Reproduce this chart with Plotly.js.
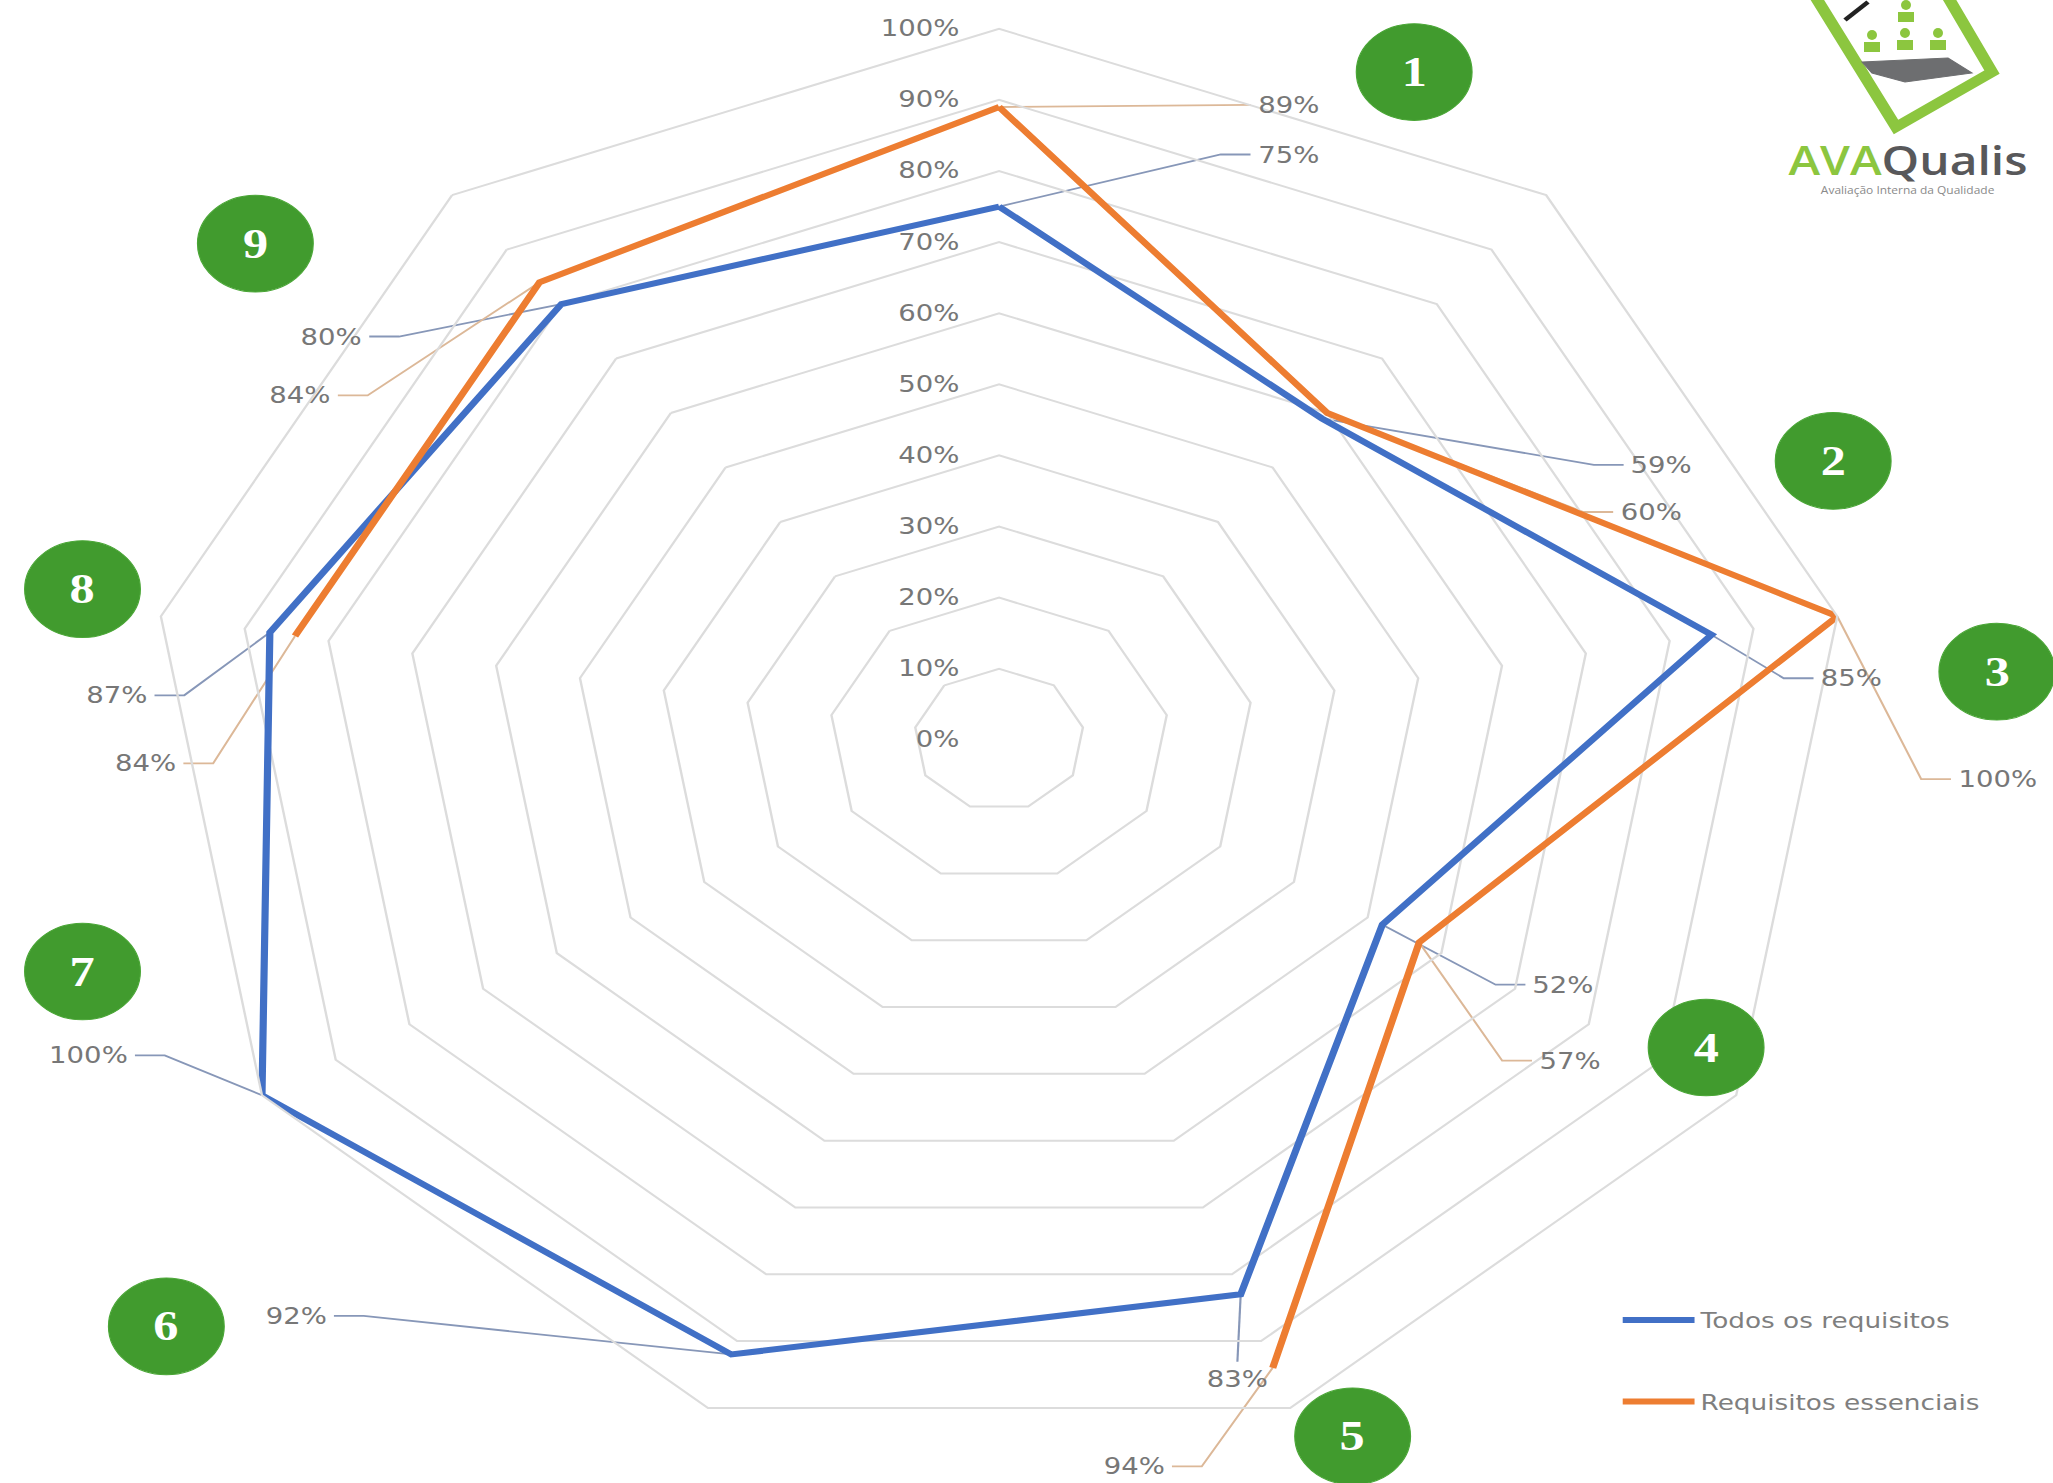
<!DOCTYPE html>
<html><head><meta charset="utf-8">
<script src="https://cdn.plot.ly/plotly-3.0.1.min.js"></script>
<style>
html,body{margin:0;padding:0;background:#fff;overflow:hidden;}
#chart{width:1715px;height:1483px;transform:scaleX(1.19708);transform-origin:0 0;}
</style></head><body><div id="chart"></div>
<script>
// ---- data ----
const categories = ['1','2','3','4','5','6','7','8','9'];
const todos = [75, 59, 85, 52, 83, 92, 100, 87, 80];          // Todos os requisitos
const essenciais = [89, 60, 100, 57, 94, null, null, 84, 84];  // Requisitos essenciais
const radialTicks = [0,10,20,30,40,50,60,70,80,90,100];
const radialTickText = ['0%','10%','20%','30%','40%','50%','60%','70%','80%','90%','100%'];
const seriesNames = ['Todos os requisitos', 'Requisitos essenciais'];

// ---- label placement (layout, overlay units: 1 = full radius) ----
const todosLabelPos = [[0.2954,0.8232,'L'],[0.7338,0.3867,'L'],[0.9569,0.0866,'L'],[0.6184,-0.3444,'L'],[0.2800,-0.8747,'B'],[-0.7815,-0.8103,'R'],[-1.0153,-0.4438,'R'],[-0.9923,0.0626,'R'],[-0.7400,0.5672,'R']];
const essLabelPos = [[0.2954,0.8931,'L'],[0.7215,0.3204,'L'],[1.1184,-0.0552,'L'],[0.6261,-0.4512,'L'],[0.2031,-1.0220,'R'],null,null,[-0.9584,-0.0331,'R'],[-0.7769,0.4843,'R']];
const badgePos = [[0.4877,0.9392],[0.980,0.3922],[1.1723,0.0958],[0.8307,-0.4328],[0.4154,-0.9797],[-0.9784,-0.8250],[-1.0769,-0.3259],[-1.0769,0.2118],[-0.8738,0.6979]];

const W = 1715, H = 1483, cx = 834.6, cy = 739.8, R = 711;
const BLUE = '#4170C6', ORANGE = '#ED7D31', GREEN = '#419b2e';
const labelFont = {family:'DejaVu Sans', size:23, color:'#777777'};
const PAD = '\u00a0\u00a0\u00a0\u00a0';

function toXY(v, i) {
  const a = i * 2 * Math.PI / categories.length;
  return [v/100*Math.sin(a), v/100*Math.cos(a)];
}
function close(arr){ return arr.concat([arr[0]]); }

function leaderTrace(values, pos, color) {
  const xs = [], ys = [];
  values.forEach((v,i)=>{
    if (v == null || !pos[i]) return;
    const [px,py] = toXY(v,i);
    const [ex,ey,side] = pos[i];
    xs.push(px); ys.push(py);
    if (side === 'L') { xs.push(ex-0.035); ys.push(ey); }
    else if (side === 'R') { xs.push(ex+0.035); ys.push(ey); }
    xs.push(ex); ys.push(ey);
    xs.push(null); ys.push(null);
  });
  return {type:'scatter', x:xs, y:ys, mode:'lines', xaxis:'x', yaxis:'y',
    line:{color:color, width:1.8}, hoverinfo:'skip', showlegend:false, connectgaps:false};
}
function labelAnns(values, pos) {
  const out = [];
  values.forEach((v,i)=>{
    if (v == null || !pos[i]) return;
    const [ex,ey,side] = pos[i];
    const a = {x:ex, y:ey, xref:'x', yref:'y', text:v+'%', showarrow:false, font:labelFont};
    if (side === 'L') { a.xanchor='left'; a.xshift=4; a.yanchor='middle'; }
    else if (side === 'R') { a.xanchor='right'; a.xshift=-4; a.yanchor='middle'; }
    else { a.xanchor='center'; a.yanchor='top'; a.yshift=-2; }
    out.push(a);
  });
  return out;
}

const traces = [
  leaderTrace(todos, todosLabelPos, '#8797b8'),
  leaderTrace(essenciais, essLabelPos, '#dcb898'),
  {type:'scatterpolar', subplot:'polar', r:close(todos), theta:close(categories), mode:'lines',
   name:seriesNames[0], legendgroup:'a', line:{color:BLUE, width:6}, connectgaps:false},
  {type:'scatterpolar', subplot:'polar', r:close(essenciais), theta:close(categories), mode:'lines',
   name:seriesNames[1], legendgroup:'b', line:{color:ORANGE, width:6}, connectgaps:false}
];

const shapes = badgePos.map(p => ({type:'circle', xref:'x', yref:'y', layer:'above',
  x0:p[0]-0.068, x1:p[0]+0.068, y0:p[1]-0.068, y1:p[1]+0.068,
  fillcolor:GREEN, line:{color:'#4aa636', width:1}}));

// logo (paper coords)
const px = rx => rx/2053, py = ry => 1 - ry/1483;
shapes.push({type:'path', xref:'paper', yref:'paper', layer:'above',
  path:`M${px(1805)},${py(-20)} L${px(1896)},${py(127)} L${px(1992)},${py(72)} L${px(1932)},${py(-30)} Z`,
  line:{color:'#8cc63f', width:10}, fillcolor:'rgba(0,0,0,0)'});
shapes.push({type:'path', xref:'paper', yref:'paper', layer:'above',
  path:`M${px(1862)},${py(62)} L${px(1948)},${py(58)} L${px(1972)},${py(73)} L${px(1905)},${py(82)} L${px(1872)},${py(73)} Z`,
  line:{color:'#6d6e70', width:1}, fillcolor:'#6d6e70'});
shapes.push({type:'line', xref:'paper', yref:'paper', layer:'above',
  x0:px(1845), y0:py(20), x1:px(1868), y1:py(2), line:{color:'#222', width:4}});
[[1872,42],[1905,40],[1938,40],[1906,12]].forEach(([a,b])=>{
  shapes.push({type:'rect', xref:'paper', yref:'paper', layer:'above',
    x0:px(a-8), x1:px(a+8), y0:py(b+10), y1:py(b), fillcolor:'#8cc63f', line:{width:0}});
  shapes.push({type:'circle', xref:'paper', yref:'paper', layer:'above',
    x0:px(a-5), x1:px(a+5), y0:py(b-2), y1:py(b-12), fillcolor:'#8cc63f', line:{width:0}});
});

const annotations = []
  .concat(labelAnns(todos, todosLabelPos))
  .concat(labelAnns(essenciais, essLabelPos))
  .concat(badgePos.map((p,i)=>({x:p[0], y:p[1], xref:'x', yref:'y', text:categories[i], showarrow:false,
    font:{family:'Liberation Serif', size:42, color:'#ffffff', weight:'bold'}, xanchor:'center', yanchor:'middle'})))
  .concat([
    {xref:'paper', yref:'paper', x:px(1908), y:py(160), xanchor:'center', yanchor:'middle', showarrow:false,
     text:'<span style="color:#8cc63f">AVA</span><span style="color:#58585a">Qualis</span>',
     font:{family:'Open Sans', size:40, weight:600}},
    {xref:'paper', yref:'paper', x:px(1908), y:py(181), xanchor:'center', yanchor:'top', showarrow:false,
     text:'Avaliação Interna da Qualidade', font:{family:'Open Sans', size:10, color:'#8a8a8a'}}
  ]);

const layout = {
  width: W, height: H, margin:{l:0, r:0, t:0, b:0},
  paper_bgcolor:'#ffffff', plot_bgcolor:'rgba(0,0,0,0)',
  showlegend:true,
  legend:{x:0.7875, y:0.124, xanchor:'left', yanchor:'top', traceorder:'grouped', tracegroupgap:50,
    font:{family:'DejaVu Sans', size:22, color:'#7f7f7f'}, bgcolor:'rgba(0,0,0,0)', itemwidth:60},
  xaxis:{domain:[0,1], range:[-cx/R, (W-cx)/R], visible:false, fixedrange:true},
  yaxis:{domain:[0,1], range:[-(H-cy)/R, cy/R], visible:false, fixedrange:true},
  polar:{
    domain:{x:[(cx-R)/W, (cx+R)/W], y:[(H-cy-R)/H, (H-cy+R)/H]},
    bgcolor:'rgba(0,0,0,0)', gridshape:'linear',
    radialaxis:{range:[0,100], tickmode:'array', tickvals:radialTicks,
      ticktext:radialTickText.map(t => t + PAD),
      showline:false, ticks:'', angle:90, side:'counterclockwise', gridcolor:'#dcdcdc', gridwidth:2,
      tickfont:labelFont, tickangle:90},
    angularaxis:{type:'category', categoryarray:categories, rotation:90, direction:'clockwise',
      showticklabels:false, ticks:'', showgrid:false, showline:true, linecolor:'#dcdcdc', linewidth:2}
  },
  shapes: shapes,
  annotations: annotations
};

Plotly.newPlot('chart', traces, layout, {displayModeBar:false, staticPlot:true});
</script></body></html>
